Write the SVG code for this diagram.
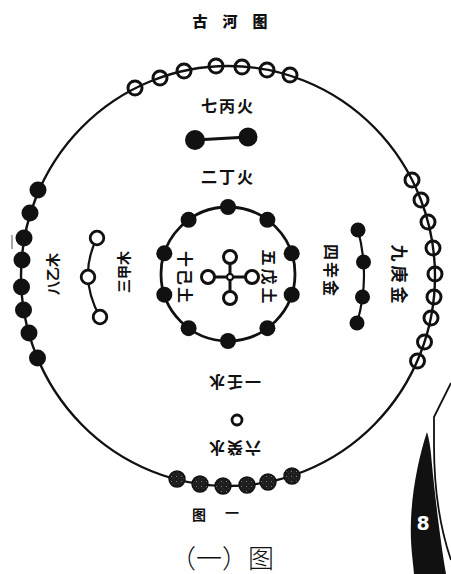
<svg xmlns="http://www.w3.org/2000/svg" width="451" height="574" viewBox="0 0 451 574">
<style>
.ring{fill:none;stroke:#111;stroke-width:2.4}
.link{fill:none;stroke:#111;stroke-width:3}
.hollow{fill:none;stroke:#111;stroke-width:3}
.solid{fill:#111}
.speck{fill:url(#speck);stroke:#111;stroke-width:1.4}
.lbl{font-family:"Noto Sans CJK SC","Noto Sans CJK JP",sans-serif;font-size:16px;fill:#111;text-anchor:middle;dominant-baseline:central;font-weight:600}
.title{font-family:"Noto Sans CJK SC","Noto Sans CJK JP",sans-serif;font-size:15px;font-weight:900;fill:#111;letter-spacing:15px}
</style>
<defs>
<pattern id="speck" width="5" height="5" patternUnits="userSpaceOnUse">
<rect width="5" height="5" fill="#1e1e1e"/>
<circle cx="1.5" cy="1.5" r="0.5" fill="#999"/>
<circle cx="3.8" cy="3.6" r="0.4" fill="#666"/>
</pattern>
</defs>
<rect width="451" height="574" fill="#fff"/>

<g id="title"><text class="title" x="192.5" y="27">古河图</text></g>

<g id="connectors">
<ellipse class="ring" cx="228" cy="276" rx="207" ry="210"/>
<circle class="ring" cx="228" cy="274" r="67" style="stroke-width:2.8"/>
<line class="link" x1="195" y1="140" x2="248" y2="137"/>
<path class="link" d="M97,238 Q77.5,276.5 100,317" style="stroke-width:2.2"/>
<path class="link" d="M358,230 Q370.5,277.5 357,323" style="stroke-width:2.2"/>
<line class="link" x1="230" y1="257" x2="230" y2="298"/>
<line class="link" x1="208" y1="277" x2="252" y2="277"/>
</g>

<g id="outer-top-7">
<circle class="hollow" cx="135" cy="88" r="7"/>
<circle class="hollow" cx="160" cy="78" r="7"/>
<circle class="hollow" cx="184" cy="71" r="7"/>
<circle class="hollow" cx="216" cy="66" r="7"/>
<circle class="hollow" cx="242" cy="67" r="7"/>
<circle class="hollow" cx="267" cy="70" r="7"/>
<circle class="hollow" cx="290" cy="75" r="7"/>
</g>

<g id="outer-left-8">
<circle class="solid" cx="38" cy="190" r="8.5"/>
<circle class="solid" cx="30" cy="213" r="8.5"/>
<circle class="solid" cx="24" cy="238" r="8.5"/>
<circle class="solid" cx="22" cy="260" r="8.5"/>
<circle class="solid" cx="21.5" cy="287" r="8.5"/>
<circle class="solid" cx="23.5" cy="310" r="8.5"/>
<circle class="solid" cx="29" cy="333" r="8.5"/>
<circle class="solid" cx="37.5" cy="358" r="8.5"/>
</g>

<g id="outer-right-9">
<circle class="hollow" cx="412" cy="180" r="7"/>
<circle class="hollow" cx="421" cy="200" r="7"/>
<circle class="hollow" cx="428" cy="222" r="7"/>
<circle class="hollow" cx="433" cy="248" r="7"/>
<circle class="hollow" cx="435" cy="274" r="7"/>
<circle class="hollow" cx="434" cy="297" r="7"/>
<circle class="hollow" cx="431" cy="318" r="7"/>
<circle class="hollow" cx="424.5" cy="342" r="7"/>
<circle class="hollow" cx="417.5" cy="361" r="7"/>
</g>

<g id="outer-bottom-6">
<circle class="speck" cx="177" cy="479" r="8"/>
<circle class="speck" cx="200" cy="484" r="8"/>
<circle class="speck" cx="223" cy="486" r="8"/>
<circle class="speck" cx="247" cy="485" r="8"/>
<circle class="speck" cx="268" cy="482" r="8"/>
<circle class="speck" cx="292" cy="476" r="8"/>
</g>

<g id="inner-ring-10">
<circle class="solid" cx="228" cy="207" r="8"/>
<circle class="solid" cx="267.4" cy="219.8" r="8"/>
<circle class="solid" cx="291.7" cy="253.3" r="8"/>
<circle class="solid" cx="291.7" cy="294.7" r="8"/>
<circle class="solid" cx="267.4" cy="328.2" r="8"/>
<circle class="solid" cx="228" cy="341" r="8"/>
<circle class="solid" cx="188.6" cy="328.2" r="8"/>
<circle class="solid" cx="164.3" cy="294.7" r="8"/>
<circle class="solid" cx="164.3" cy="253.3" r="8"/>
<circle class="solid" cx="188.6" cy="219.8" r="8"/>
</g>

<g id="center-5">
<circle cx="230" cy="257" r="6.5" fill="#fff" stroke="#111" stroke-width="3"/>
<circle cx="208" cy="277" r="6.5" fill="#fff" stroke="#111" stroke-width="3"/>
<circle cx="252" cy="277" r="6.5" fill="#fff" stroke="#111" stroke-width="3"/>
<circle cx="230" cy="298" r="6.5" fill="#fff" stroke="#111" stroke-width="3"/>
<circle cx="230" cy="277" r="3" fill="#fff" stroke="#111" stroke-width="2"/>
</g>

<g id="fire-2">
<circle class="solid" cx="195" cy="140" r="10"/>
<circle class="solid" cx="248" cy="137" r="9.5"/>
</g>

<g id="wood-3">
<circle cx="97" cy="238" r="6.8" fill="#fff" stroke="#111" stroke-width="2.8"/>
<circle cx="88" cy="277" r="6.8" fill="#fff" stroke="#111" stroke-width="2.8"/>
<circle cx="100" cy="317" r="6.8" fill="#fff" stroke="#111" stroke-width="2.8"/>
</g>

<g id="metal-4">
<circle class="solid" cx="358" cy="230" r="7.5"/>
<circle class="solid" cx="363.5" cy="262" r="7.5"/>
<circle class="solid" cx="362.5" cy="297" r="7.5"/>
<circle class="solid" cx="357" cy="323" r="7.5"/>
</g>

<g id="water-1">
<circle cx="237" cy="420" r="5" fill="none" stroke="#111" stroke-width="2.8"/>
</g>

<g id="labels">
<text class="lbl" x="228" y="105" style="letter-spacing:2px">七丙火</text>
<text class="lbl" x="228" y="176" style="letter-spacing:2px">二丁火</text>
<text class="lbl" transform="translate(234,383) rotate(180)" style="letter-spacing:2px">一壬水</text>
<text class="lbl" transform="translate(234,449) rotate(180)" style="letter-spacing:2px">六癸水</text>
<text class="lbl" transform="translate(52,274) rotate(-90)" style="font-size:14px">八乙木</text>
<text class="lbl" transform="translate(123,272) rotate(-90)" style="font-size:14px">三甲木</text>
<text class="lbl" transform="translate(186,278) rotate(90)" style="letter-spacing:2px">十己土</text>
<text class="lbl" transform="translate(270,278) rotate(90)" style="letter-spacing:3px">五戊土</text>
<text class="lbl" transform="translate(332,271) rotate(90)" style="letter-spacing:2px">四辛金</text>
<text class="lbl" transform="translate(400,276) rotate(90)" style="font-size:17px;letter-spacing:4px">九庚金</text>
</g>

<g id="caption">
<text class="lbl" style="font-size:14px"><tspan x="199" y="514">图</tspan><tspan x="232" y="512">一</tspan></text>
<text class="lbl" x="222" y="556" style="font-size:26px;font-weight:300">（一）图</text>
</g>

<g id="page-corner">
<line x1="12" y1="235" x2="12" y2="249" stroke="#555" stroke-width="1"/>
<path d="M451,383 L434,417 L434,445 C434,490 440,528 451,560" fill="none" stroke="#111" stroke-width="1.8"/>
<path d="M427,432 C419,456 412,490 411,520 C410,545 413,560 414,574 L446,574 C441,545 436,505 432,465 C431,452 430,442 427,432 Z" fill="#111"/>
<text x="423" y="530" fill="#fff" text-anchor="middle" style="font-family:'DejaVu Sans',sans-serif;font-size:19px;font-weight:700">8</text>
</g>
</svg>
